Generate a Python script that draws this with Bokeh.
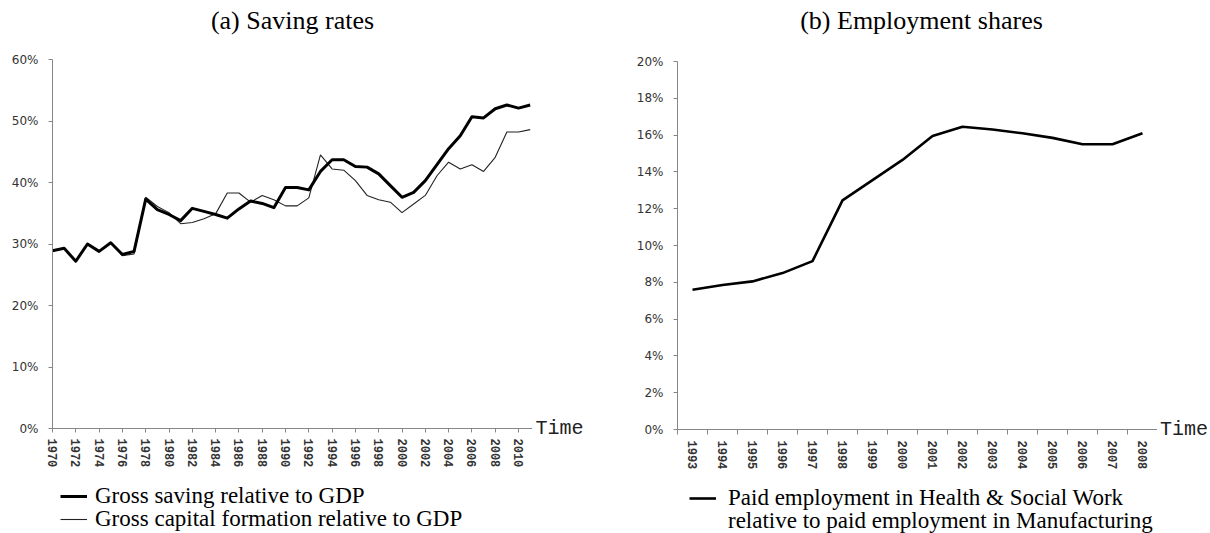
from bokeh.plotting import figure
from bokeh.layouts import row, column
from bokeh.models import (Range1d, FixedTicker, NumeralTickFormatter, Legend, LegendItem, Label)
from bokeh.embed import file_html
from bokeh.resources import INLINE

# ---- data: panel (a) ----
years_a = list(range(1970, 2012))
saving = [28.9, 29.3, 27.2, 30.0, 28.8, 30.2, 28.3, 28.8, 37.3, 35.6, 34.8, 33.8,
          35.8, 35.3, 34.8, 34.2, 35.7, 37.0, 36.6, 35.9, 39.2, 39.2, 38.8, 41.8,
          43.7, 43.7, 42.6, 42.5, 41.4, 39.5, 37.6, 38.4, 40.3, 42.9, 45.5, 47.6,
          50.7, 50.5, 52.0, 52.6, 52.1, 52.6]
capital = [28.9, 29.3, 27.2, 30.0, 28.8, 30.2, 28.1, 28.4, 37.6, 36.1, 35.1, 33.3,
           33.5, 34.1, 34.9, 38.3, 38.3, 36.8, 37.9, 37.2, 36.2, 36.2, 37.5, 44.5,
           42.2, 42.0, 40.3, 37.9, 37.2, 36.8, 35.1, 36.5, 37.9, 41.1, 43.3, 42.2,
           42.9, 41.8, 44.1, 48.2, 48.2, 48.6]
ticks_a = list(range(1970, 2011, 2))
yticks_a = [0, 0.1, 0.2, 0.3, 0.4, 0.5, 0.6]
title_a = "(a) Saving rates"
labels_a = ["Gross saving relative to GDP", "Gross capital formation relative to GDP"]

# ---- data: panel (b) ----
years_b = list(range(1993, 2009))
employment = [7.6, 7.85, 8.05, 8.5, 9.15, 12.45, 13.55, 14.65, 15.95, 16.45,
              16.3, 16.1, 15.85, 15.5, 15.5, 16.1]
yticks_b = [0, 0.02, 0.04, 0.06, 0.08, 0.10, 0.12, 0.14, 0.16, 0.18, 0.20]
title_b = "(b) Employment shares"
labels_b = ["Paid employment in Health & Social Work",
            "relative to paid employment in Manufacturing"]
axis_name = "Time"

AXIS_COL = "#868686"
TICK_FONT = "DejaVu Sans"
MONO = "Liberation Mono"
SERIF = "Liberation Serif"


def blank(w, h):
    f = figure(width=w, height=h, x_range=Range1d(0, w), y_range=Range1d(0, h),
               x_axis_type=None, y_axis_type=None, min_border=0, title_location=None,
               output_backend="svg", toolbar_location=None)
    f.outline_line_color = None
    return f


def header(w, h, text, cx):
    f = blank(w, h)
    f.add_layout(Label(x=cx, y=h / 2, text=text, text_font=SERIF, text_font_size="26px",
                       text_align="center", text_baseline="middle", text_color="black"))
    return f


def time_fig(w, h, border_right):
    # a bare x axis whose label is the axis name, drawn at the level of the main axis
    f = figure(width=w, height=h, x_range=Range1d(0, 1), y_range=Range1d(0, 1),
               y_axis_type=None, min_border_left=0, min_border_right=border_right,
               title_location=None, output_backend="svg", toolbar_location=None)
    f.outline_line_color = None
    f.xgrid.visible = False
    ax = f.xaxis[0]
    ax.ticker = FixedTicker(ticks=[])
    ax.axis_line_color = None
    ax.major_tick_line_color = None
    ax.minor_tick_line_color = None
    ax.axis_label = axis_name
    ax.axis_label_standoff = -12
    ax.axis_label_text_font = MONO
    ax.axis_label_text_font_size = "20px"
    ax.axis_label_text_font_style = "normal"
    ax.axis_label_text_color = "#222222"
    return f


def legend_fig(w, h, series, styles, labels, x, ys, standoff):
    f = blank(w, h)
    for (xs, yv), (col, lw, alpha), lab, y in zip(series, styles, labels, ys):
        # legend proxy: same series, lying outside this strip's visible range
        r = f.line(xs, yv, line_color=col, line_width=lw, line_alpha=alpha)
        f.add_layout(Legend(items=[LegendItem(label=lab, renderers=[r])], location=(x, y),
                            padding=0, margin=0, spacing=0,
                            glyph_width=27, glyph_height=20, label_standoff=standoff,
                            label_text_font=SERIF, label_text_font_size="23px",
                            label_text_color="black",
                            background_fill_alpha=0, border_line_color=None))
    return f


def style(p):
    p.xgrid.visible = False
    p.ygrid.visible = False
    p.outline_line_color = None
    for ax in (p.xaxis[0], p.yaxis[0]):
        ax.axis_line_color = AXIS_COL
        ax.major_tick_line_color = AXIS_COL
        ax.major_tick_out = 4
        ax.major_tick_in = 0
        ax.minor_tick_line_color = None
    p.yaxis[0].major_label_text_font = TICK_FONT
    p.yaxis[0].major_label_text_font_size = "12px"
    p.yaxis[0].major_label_text_color = "#333333"
    p.yaxis[0].major_label_standoff = 10
    p.yaxis[0].formatter = NumeralTickFormatter(format="0%")
    p.xaxis[0].major_label_text_font = MONO
    p.xaxis[0].major_label_text_font_size = "12px"
    p.xaxis[0].major_label_text_font_style = "bold"
    p.xaxis[0].major_label_text_color = "#333333"
    p.xaxis[0].major_label_orientation = "vertical"
    p.xaxis[0].major_label_standoff = 6


sav_frac = [v / 100 for v in saving]
cap_frac = [v / 100 for v in capital]
emp_frac = [v / 100 for v in employment]

# ---------- panel (a) ----------
pa = figure(frame_width=480, frame_height=369, min_border_left=52, min_border_right=0,
            min_border_top=19, min_border_bottom=52, title_location=None,
            x_range=Range1d(1970, 2011.2), y_range=Range1d(0, 0.6),
            output_backend="svg", toolbar_location=None)
style(pa)
pa.xaxis[0].ticker = FixedTicker(ticks=ticks_a)
pa.yaxis[0].ticker = FixedTicker(ticks=yticks_a)
pa.line(years_a, cap_frac, line_color="#222222", line_width=1.1)
pa.line(years_a, sav_frac, line_color="black", line_width=3, line_join="round")

col_a = column(header(605, 40, title_a, 292),
               row(pa, time_fig(73, 440, 19)),
               legend_fig(605, 53, [(years_a, sav_frac), (years_a, cap_frac)],
                          [("black", 3, 1), ("#222222", 1.1, 1)], labels_a, 60, [24, 1], 8))

# ---------- panel (b) ----------
pb = figure(frame_width=480, frame_height=368, min_border_left=72, min_border_right=0,
            min_border_top=21, min_border_bottom=51, title_location=None,
            x_range=Range1d(1992.5, 2008.5), y_range=Range1d(0, 0.2),
            output_backend="svg", toolbar_location=None)
style(pb)
pb.xaxis[0].ticker = FixedTicker(ticks=years_b, minor_ticks=[y - 0.5 for y in years_b] + [2008.5])
pb.xaxis[0].major_tick_line_color = None
pb.xaxis[0].minor_tick_line_color = AXIS_COL
pb.xaxis[0].minor_tick_out = 5
pb.xaxis[0].minor_tick_in = 0
pb.yaxis[0].ticker = FixedTicker(ticks=yticks_b)
pb.line(years_b, emp_frac, line_color="black", line_width=2.6, line_join="round")

col_b = column(header(605, 40, title_b, 316),
               row(pb, time_fig(53, 440, 0)),
               legend_fig(605, 53, [(years_b, emp_frac), (years_b, emp_frac)],
                          [("black", 2.6, 1), ("black", 1, 0)], labels_b, 84, [22, -1], 12))

layout = row(col_a, col_b)
open("out.html", "w").write(file_html(layout, INLINE))
